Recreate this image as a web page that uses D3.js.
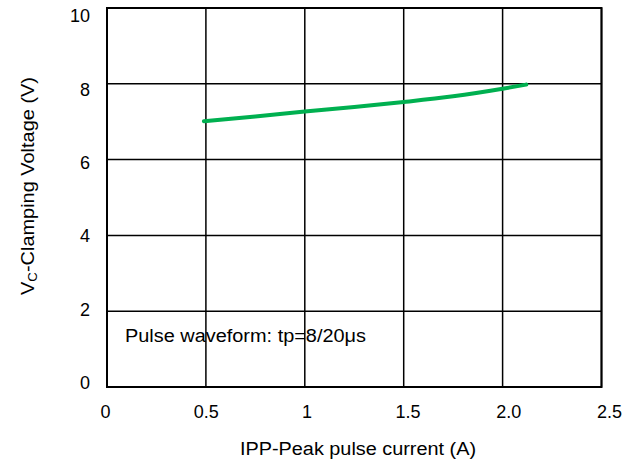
<!DOCTYPE html>
<html><head><meta charset="utf-8">
<script src="https://cdn.jsdelivr.net/npm/d3@7"></script>
<style>body{margin:0;background:#fff;}svg{display:block;font-family:"Liberation Sans",Arial,sans-serif;}</style>
</head><body>
<svg id="c" width="638" height="464"></svg>
<script>
const currents = [0.49, 0.75, 1.0, 1.25, 1.5, 1.75, 2.0, 2.12];
const voltages = [7.01, 7.14, 7.27, 7.39, 7.52, 7.67, 7.87, 7.98];
const xTicks = [0, 0.5, 1, 1.5, 2, 2.5];
const xTickLabels = ["0", "0.5", "1", "1.5", "2.0", "2.5"];
const yTicks = [0, 2, 4, 6, 8, 10];
const annotation = "Pulse waveform: tp=8/20μs";

const FONT = "Liberation Sans, Arial, sans-serif";
const svg = d3.select("#c");
const L = 107, R = 601.5, T = 8, B = 387;
const x = d3.scaleLinear().domain([0, 2.5]).range([L, R]);
const y = d3.scaleLinear().domain([0, 10]).range([B, T]);
// label placement scales (labels in the reference are slightly offset from the grid)
const xLab = d3.scaleLinear().domain([0, 2.5]).range([105, 609]);
const yLab = d3.scaleLinear().domain([0, 10]).range([383, 16]);

const g = svg.append("g");
g.selectAll("line.v").data(xTicks).enter().append("line")
  .attr("x1", d => x(d)).attr("x2", d => x(d)).attr("y1", T).attr("y2", B)
  .attr("stroke", "#000").attr("stroke-width", 1.5);
g.selectAll("line.h").data(yTicks).enter().append("line")
  .attr("y1", d => y(d)).attr("y2", d => y(d)).attr("x1", L).attr("x2", R)
  .attr("stroke", "#000").attr("stroke-width", 1.5);
g.append("rect").attr("x", L).attr("y", T).attr("width", R - L).attr("height", B - T)
  .attr("fill", "none").attr("stroke", "#000").attr("stroke-width", 2);

const xAxis = d3.axisBottom(xLab).tickValues(xTicks).tickSize(0).tickPadding(18)
  .tickFormat((d, i) => xTickLabels[i]);
const xa = svg.append("g").attr("transform", `translate(0,${B})`).call(xAxis);
xa.select(".domain").remove();
xa.selectAll("text").attr("font-size", 18).attr("fill", "#000").attr("font-family", FONT);

const yAxis = d3.axisLeft(yLab).tickValues(yTicks).tickSize(0).tickPadding(17);
const ya = svg.append("g").attr("transform", `translate(${L},0)`).call(yAxis);
ya.select(".domain").remove();
ya.selectAll("text").attr("font-size", 18).attr("fill", "#000").attr("font-family", FONT);

const line = d3.line().x(d => x(d[0])).y(d => y(d[1])).curve(d3.curveMonotoneX);
svg.append("path").datum(currents.map((c, i) => [c, voltages[i]]))
  .attr("d", line).attr("fill", "none").attr("stroke", "#00b050")
  .attr("stroke-width", 4).attr("stroke-linecap", "round");

svg.append("text").attr("x", 125).attr("y", 342).attr("font-size", 18)
  .attr("textLength", 241).attr("lengthAdjust", "spacingAndGlyphs").text(annotation);

svg.append("text").attr("x", 240).attr("y", 455)
  .attr("font-size", 18).attr("textLength", 236).attr("lengthAdjust", "spacingAndGlyphs")
  .text("IPP-Peak pulse current (A)");

const yl = svg.append("text").attr("transform", `translate(34,295) rotate(-90)`)
  .attr("font-size", 18).attr("textLength", 218).attr("lengthAdjust", "spacingAndGlyphs");
yl.append("tspan").text("V");
yl.append("tspan").attr("font-size", 12).attr("dy", 3).text("C");
yl.append("tspan").attr("dy", -3).text("-Clamping Voltage (V)");
</script>
</body></html>
